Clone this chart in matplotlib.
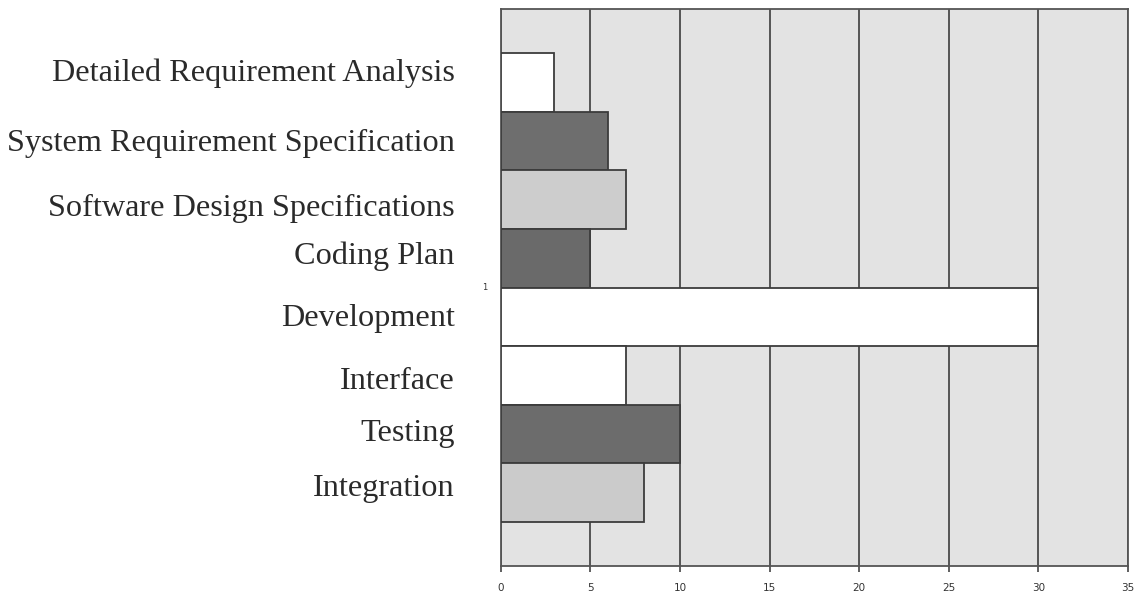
import matplotlib
matplotlib.use("Agg")
import matplotlib.pyplot as plt
from matplotlib.transforms import ScaledTranslation

# Data (top to bottom)
tasks = ["Detailed Requirement Analysis", "System Requirement Specification",
         "Software Design Specifications", "Coding Plan", "Development",
         "Interface", "Testing", "Integration"]
durations = [3, 6, 7, 5, 30, 7, 10, 8]
bar_colors = ["#ffffff", "#6e6e6e", "#cdcdcd", "#6a6a6a", "#ffffff",
              "#ffffff", "#6c6c6c", "#cbcbcb"]
x_ticks = [0, 5, 10, 15, 20, 25, 30, 35]

# label vertical nudges (pixels, positive = up) to mimic the original layout
label_nudge_px = [13, 1, -5, 5, 2, -3, 4, 8]

fig = plt.figure(figsize=(11.41, 5.93), dpi=100)
ax = fig.add_axes([0.4388, 0.0455, 0.5498, 0.9393])
ax.set_facecolor("#e3e3e3")

ypos = list(range(len(tasks)))
ax.barh(ypos, durations, height=1.0, color=bar_colors, edgecolor="#3c3c3c",
        linewidth=1.3, zorder=3)

ax.set_xlim(0, 35)
ax.set_ylim(len(tasks) + 0.25, -1.25)
ax.set_xticks(x_ticks)
ax.set_xticklabels([str(t) for t in x_ticks], fontsize=7.5, family="DejaVu Sans",
                   color="#333333")
ax.tick_params(axis="x", length=4, width=1.2, color="#444444", pad=8)

ax.set_yticks(ypos)
ax.set_yticklabels(tasks, family="Liberation Serif", fontsize=23.2, color="#2a2a2a")
ax.tick_params(axis="y", length=0, pad=33)
for lbl, dy in zip(ax.get_yticklabels(), label_nudge_px):
    lbl.set_transform(lbl.get_transform() + ScaledTranslation(0, dy / 100, fig.dpi_scale_trans))

ax.grid(axis="x", color="#4a4a4a", linewidth=1.3, zorder=1)
ax.set_axisbelow(True)
for s in ax.spines.values():
    s.set_color("#555555")
    s.set_linewidth(1.3)

# small stray axis label "1" at the category boundary
ax.text(-0.9, 3.5, "1", fontsize=6, ha="center", va="center", color="#333333",
        family="DejaVu Sans")

fig.savefig("out.png", dpi=100, facecolor="white")
